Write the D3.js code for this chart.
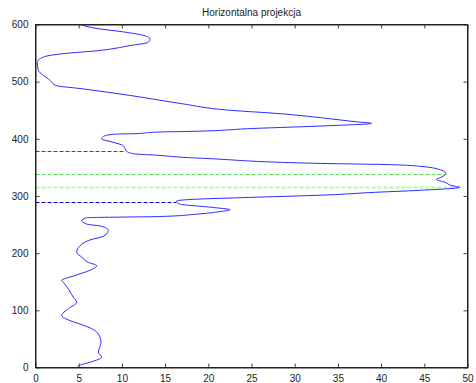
<!DOCTYPE html>
<html>
<head>
<meta charset="utf-8">
<script src="https://cdn.jsdelivr.net/npm/d3@7"></script>
<style>
  body { margin: 0; background: #fff; }
  svg { display: block; font-family: "Liberation Sans", Arial, sans-serif; }
</style>
</head>
<body>
<svg id="chart" width="476" height="383"></svg>
<script>
// projection profile: row (y) and count (x)
const rows = [0, 3, 10, 18, 27, 44, 53, 68, 76, 82, 91, 103, 114, 123, 149, 152, 161, 170, 178, 184,
  193, 202, 213, 222, 231, 240, 247, 251, 257, 262, 263, 264, 268, 272, 276, 280, 286, 291, 294, 297,
  302, 306, 310, 315, 318, 324, 329, 333, 339, 345, 352, 355, 357, 359, 365, 368, 371, 374, 379, 383,
  388, 394, 400, 404, 408, 409, 412, 413, 418, 423, 427, 430, 437, 444, 450, 462, 476, 488, 493, 502,
  505, 511, 520, 534, 543, 549, 554, 563, 569, 575, 581, 587, 593, 600];
const counts = [4.9, 5.0, 6.5, 7.66, 7.27, 7.58, 7.47, 6.5, 5.15, 4.0, 3.03, 3.8, 4.77, 4.38, 3.22, 3.03, 4.57, 6.3, 7.08, 6.1,
  5.35, 4.77, 5.15, 6.1, 8.04, 8.43, 7.66, 5.9, 5.35, 5.9, 9.4, 14.2, 18.5, 21, 22.5, 20.5, 16.7, 16.3, 18, 23.7,
  34, 38.7, 44.5, 49.1, 48.2, 47.4, 46.4, 47.0, 47.5, 47.0, 44.5, 40.6, 33, 28.3, 20.6, 16.7, 14.4, 11.3, 10.5, 10.36,
  10.16, 9.0, 7.66, 7.85, 9.0, 11.3, 14.4, 17.9, 25, 34, 38.9, 37, 33, 28.3, 22.5, 16.7, 10.9, 5.15, 2.45, 1.68,
  1.48, 0.9, 0.32, 0.2, 0.9, 3.2, 7.1, 10.9, 13.06, 13.25, 12.5, 10.2, 7.1, 5.15];

// marker lines: row, end count
const markRows = [290, 379, 339, 315];
const markEnds = [16.3, 10.4, 47.5, 49.1];
const markColors = ["#0000cc", "#3333ff", "#55dd55", "#aaffaa"];
const markWidths = [1, 1, 1, 2];

const xTicks = d3.range(0, 51, 5);
const yTicks = d3.range(0, 601, 100);
const title = "Horizontalna projekcja";

const svg = d3.select("#chart");
const mLeft = 35.5, mRight = 467.5, mTop = 24.5, mBottom = 367.5;

const x = d3.scaleLinear().domain([0, 50]).range([mLeft, mRight]);
const y = d3.scaleLinear().domain([0, 600]).range([mBottom, mTop]);

const data = rows.map((r, i) => ({ r: r, c: counts[i] }));

// marker lines
svg.append("g").selectAll("line")
  .data(markRows)
  .join("line")
  .attr("x1", x(0))
  .attr("x2", (d, i) => x(markEnds[i]))
  .attr("y1", d => Math.round(y(d)) + 0.5)
  .attr("y2", d => Math.round(y(d)) + 0.5)
  .attr("stroke", (d, i) => markColors[i])
  .attr("stroke-width", (d, i) => markWidths[i])
  .attr("stroke-dasharray", "4,2");

// profile curve
const line = d3.line()
  .x(d => x(d.c))
  .y(d => y(d.r))
  .curve(d3.curveMonotoneY);

svg.append("path")
  .datum(data)
  .attr("d", line)
  .attr("fill", "none")
  .attr("stroke", "#2a2aff")
  .attr("stroke-width", 1);

// axes
const xAxisB = d3.axisBottom(x).tickValues(xTicks).tickSizeInner(-4).tickSizeOuter(0).tickPadding(7);
const xAxisT = d3.axisTop(x).tickValues(xTicks).tickSizeInner(-4).tickSizeOuter(0).tickFormat("");
const yAxisL = d3.axisLeft(y).tickValues(yTicks).tickSizeInner(-4).tickSizeOuter(0).tickPadding(7);
const yAxisR = d3.axisRight(y).tickValues(yTicks).tickSizeInner(-4).tickSizeOuter(0).tickFormat("");

svg.append("g").attr("transform", `translate(0,${mBottom})`).call(xAxisB);
svg.append("g").attr("transform", `translate(0,${mTop})`).call(xAxisT);
svg.append("g").attr("transform", `translate(${mLeft},0)`).call(yAxisL);
svg.append("g").attr("transform", `translate(${mRight},0)`).call(yAxisR);

svg.selectAll(".domain").attr("stroke", "#222");
svg.selectAll(".tick line").attr("stroke", "#444");
svg.selectAll(".tick text").attr("font-size", 10).attr("fill", "#222")
  .attr("font-family", "Liberation Sans, Arial, sans-serif");

// frame
svg.append("rect")
  .attr("x", mLeft).attr("y", mTop)
  .attr("width", mRight - mLeft).attr("height", mBottom - mTop)
  .attr("fill", "none").attr("stroke", "#222");

svg.append("text")
  .attr("x", (mLeft + mRight) / 2)
  .attr("y", 16)
  .attr("text-anchor", "middle")
  .attr("font-size", 10)
  .attr("fill", "#222")
  .text(title);
</script>
</body>
</html>
